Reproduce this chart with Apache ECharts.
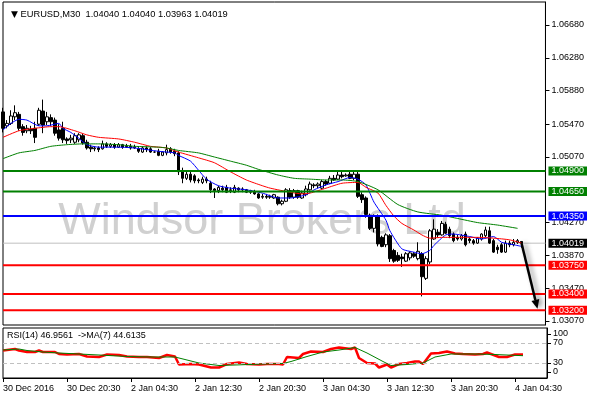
<!DOCTYPE html>
<html><head><meta charset="utf-8">
<script src="https://cdn.jsdelivr.net/npm/echarts@6/dist/echarts.min.js"></script>
<style>html,body{margin:0;padding:0;background:#fff}#c{width:590px;height:400px}</style>
</head><body><div id="c"></div>
<script>
// ---------- data ----------
const symbolName = 'EURUSD,M30';
const slotCount = 137; // 131 bars + chart shift
const tickLabels = {0:'30 Dec 2016',16:'30 Dec 20:30',32:'2 Jan 04:30',48:'2 Jan 12:30',64:'2 Jan 20:30',80:'3 Jan 04:30',96:'3 Jan 12:30',112:'3 Jan 20:30',128:'4 Jan 04:30'};
// [open, close, low, high]
const candles = [
[1.0562,1.0542,1.0537,1.0567],[1.0545,1.0548,1.0542,1.0552],[1.0548,1.0557,1.0546,1.0564],[1.0556,1.0561,1.0552,1.0570],
[1.0559,1.0542,1.0539,1.0562],[1.0544,1.0537,1.0533,1.0547],[1.0539,1.0542,1.0536,1.0546],[1.0541,1.0539,1.0535,1.0545],
[1.0542,1.0531,1.0524,1.0550],[1.0547,1.0564,1.0545,1.0567],[1.0563,1.0546,1.0536,1.0577],[1.0550,1.0556,1.0546,1.0562],
[1.0555,1.0550,1.0545,1.0559],[1.0552,1.0536,1.0533,1.0555],[1.0540,1.0530,1.0527,1.0547],[1.0542,1.0528,1.0524,1.0550],
[1.0529,1.0527,1.0523,1.0531],[1.0528,1.0530,1.0524,1.0534],[1.0525,1.0533,1.0523,1.0536],[1.0528,1.0534,1.0525,1.0536],
[1.0533,1.0524,1.0522,1.0535],[1.0525,1.0518,1.0516,1.0528],[1.0519,1.0517,1.0513,1.0522],[1.0517,1.0518,1.0514,1.0520],
[1.0518,1.0516,1.0513,1.0520],[1.0517,1.0523,1.0516,1.0527],[1.0523,1.0520,1.0518,1.0525],[1.0520,1.0522,1.0518,1.0524],
[1.0522,1.0519,1.0517,1.0524],[1.0519,1.0522,1.0518,1.0524],[1.0522,1.0519,1.0517,1.0523],[1.0519,1.0520,1.0518,1.0523],
[1.0520,1.0518,1.0516,1.0523],[1.0518,1.0519,1.0517,1.0522],[1.0517,1.0514,1.0512,1.0519],[1.0513,1.0518,1.0512,1.0520],
[1.0518,1.0516,1.0513,1.0520],[1.0517,1.0513,1.0512,1.0519],[1.0513,1.0513,1.0512,1.0514],[1.0514,1.0509,1.0508,1.0517],
[1.0509,1.0513,1.0508,1.0514],[1.0512,1.0516,1.0509,1.0522],[1.0517,1.0513,1.0511,1.0519],[1.0514,1.0511,1.0508,1.0517],
[1.0512,1.0489,1.0485,1.0514],[1.0490,1.0481,1.0475,1.0494],[1.0481,1.0486,1.0479,1.0489],[1.0486,1.0479,1.0476,1.0489],
[1.0484,1.0478,1.0475,1.0486],[1.0479,1.0478,1.0475,1.0481],[1.0476,1.0480,1.0474,1.0483],[1.0480,1.0478,1.0475,1.0483],
[1.0475,1.0467,1.0463,1.0478],[1.0468,1.0466,1.0457,1.0469],[1.0466,1.0470,1.0463,1.0472],[1.0469,1.0467,1.0464,1.0472],
[1.0470,1.0464,1.0463,1.0473],[1.0466,1.0467,1.0463,1.0470],[1.0464,1.0470,1.0463,1.0473],[1.0469,1.0467,1.0464,1.0470],
[1.0467,1.0468,1.0464,1.0470],[1.0467,1.0464,1.0463,1.0468],[1.0464,1.0466,1.0462,1.0467],[1.0464,1.0462,1.0461,1.0467],
[1.0462,1.0457,1.0456,1.0463],[1.0458,1.0459,1.0456,1.0462],[1.0459,1.0458,1.0456,1.0462],[1.0458,1.0459,1.0456,1.0461],
[1.0457,1.0461,1.0456,1.0462],[1.0458,1.0450,1.0448,1.0459],[1.0450,1.0453,1.0448,1.0455],[1.0453,1.0467,1.0452,1.0469],
[1.0466,1.0458,1.0456,1.0469],[1.0458,1.0466,1.0456,1.0468],[1.0466,1.0458,1.0456,1.0467],[1.0457,1.0463,1.0456,1.0466],
[1.0461,1.0468,1.0459,1.0472],[1.0467,1.0474,1.0466,1.0477],[1.0473,1.0472,1.0469,1.0475],[1.0472,1.0474,1.0469,1.0476],
[1.0469,1.0477,1.0468,1.0479],[1.0477,1.0474,1.0472,1.0479],[1.0475,1.0481,1.0474,1.0484],[1.0481,1.0479,1.0478,1.0485],
[1.0480,1.0485,1.0479,1.0489],[1.0485,1.0483,1.0481,1.0489],[1.0484,1.0485,1.0483,1.0487],[1.0486,1.0481,1.0480,1.0489],
[1.0481,1.0486,1.0479,1.0489],[1.0486,1.0459,1.0457,1.0489],[1.0461,1.0455,1.0451,1.0464],[1.0457,1.0437,1.0433,1.0459],
[1.0436,1.0420,1.0418,1.0438],[1.0420,1.0435,1.0415,1.0437],[1.0435,1.0401,1.0398,1.0437],[1.0409,1.0398,1.0397,1.0411],
[1.0400,1.0412,1.0397,1.0414],[1.0411,1.0383,1.0379,1.0413],[1.0393,1.0380,1.0378,1.0395],[1.0387,1.0381,1.0379,1.0391],
[1.0385,1.0383,1.0373,1.0389],[1.0380,1.0389,1.0379,1.0391],[1.0384,1.0390,1.0381,1.0392],[1.0389,1.0386,1.0384,1.0391],
[1.0383,1.0392,1.0381,1.0403],[1.0389,1.0361,1.0337,1.0391],[1.0359,1.0383,1.0357,1.0386],[1.0379,1.0417,1.0376,1.0419],
[1.0407,1.0419,1.0406,1.0431],[1.0415,1.0412,1.0409,1.0419],[1.0412,1.0426,1.0411,1.0429],[1.0425,1.0414,1.0413,1.0428],
[1.0419,1.0411,1.0408,1.0422],[1.0413,1.0405,1.0403,1.0415],[1.0409,1.0407,1.0405,1.0412],[1.0407,1.0411,1.0405,1.0413],
[1.0413,1.0400,1.0398,1.0416],[1.0407,1.0405,1.0402,1.0409],[1.0405,1.0402,1.0400,1.0407],[1.0402,1.0408,1.0401,1.0409],
[1.0407,1.0413,1.0405,1.0414],[1.0411,1.0418,1.0409,1.0422],[1.0417,1.0402,1.0401,1.0422],[1.0405,1.0391,1.0390,1.0407],
[1.0397,1.0394,1.0389,1.0400],[1.0400,1.0391,1.0390,1.0402],[1.0391,1.0402,1.0390,1.0405],[1.0402,1.0400,1.0397,1.0405],
[1.0400,1.0403,1.0398,1.0407],[1.0403,1.0405,1.0401,1.0407],[1.04040,1.04019,1.03963,1.04040]
];
// moving averages [barIndex, value]
const maFast = [[0,1.0540],[2,1.0548],[4,1.0553],[6,1.0552],[9,1.0545],[11,1.0545],[14,1.0548],[15,1.0542],[17,1.0537],[19,1.0530],[21,1.0522],[24,1.0519],[29,1.0519],[33,1.0518],[39,1.0514],[43,1.0512],[44,1.0509],[47,1.0502],[49,1.0491],[51,1.0480],[54,1.0472],[57,1.0469],[61,1.0467],[65,1.0463],[69,1.0457],[72,1.0457],[76,1.0461],[78,1.0467],[81,1.0473],[84,1.0477],[87,1.0482],[89,1.0480],[91,1.0473],[93,1.0452],[96,1.0430],[97,1.0417],[100,1.0395],[103,1.0391],[105,1.0389],[107,1.0393],[108,1.0399],[111,1.0412],[113,1.0413],[117,1.0410],[120,1.0407],[123,1.0410],[125,1.0403],[128,1.0400],[130,1.0398]];
const maMid = [[0,1.0531],[4,1.0539],[8,1.0542],[12,1.0544],[14,1.0544],[18,1.0539],[21,1.0534],[24,1.0531],[29,1.0529],[33,1.0525],[37,1.0520],[41,1.0518],[44,1.0513],[49,1.0506],[53,1.0500],[57,1.0489],[61,1.0479],[65,1.0472],[67,1.0469],[72,1.0464],[75,1.0462],[77,1.0463],[81,1.0469],[85,1.0475],[89,1.0476],[91,1.0470],[94,1.0463],[96,1.0448],[98,1.0435],[100,1.0426],[103,1.0418],[105,1.0412],[107,1.0408],[110,1.0409],[114,1.0409],[119,1.0409],[123,1.0408],[127,1.0406],[130,1.0402]];
const maSlow = [[0,1.0505],[4,1.0512],[8,1.0515],[12,1.0520],[16,1.0522],[20,1.0523],[24,1.0523],[29,1.0522],[33,1.0520],[39,1.0519],[41,1.0518],[44,1.0515],[49,1.0512],[53,1.0507],[57,1.0502],[61,1.0497],[64,1.0492],[69,1.0485],[73,1.0481],[77,1.0480],[81,1.0479],[85,1.0479],[89,1.0477],[94,1.0467],[99,1.0449],[104,1.0440],[110,1.0436],[114,1.0432],[119,1.0427],[124,1.0424],[129,1.0420]];
// RSI(14) and its MA(7)
const rsiLast = 46.9561, rsiMaLast = 44.6135;
const rsi = [[0,55],[3,58],[4,55],[6,52],[8,52],[9,55],[10,52],[13,52],[14,48],[16,47],[19,48],[21,43],[24,42],[26,47],[29,46],[31,43],[34,42],[36,42],[39,40],[41,46],[43,43],[44,27],[47,28],[49,27],[52,21],[54,21],[56,28],[59,31],[61,28],[64,27],[66,28],[69,28],[70,27],[71,42],[74,40],[75,48],[77,53],[80,52],[82,58],[84,61],[87,58],[88,61],[89,40],[91,30],[93,29],[94,21],[96,27],[97,21],[99,28],[101,30],[103,33],[104,33],[105,28],[107,49],[109,50],[111,53],[113,49],[115,48],[118,47],[120,48],[121,51],[122,48],[124,42],[126,42],[128,47],[130,rsiLast]];
const rsiMa = [[0,56],[4,58],[6,55],[10,52],[14,50],[19,48],[24,46],[31,43],[37,42],[43,42],[46,36],[49,30],[54,25],[58,26],[65,28],[70,29],[72,33],[76,43],[80,52],[84,56],[88,61],[91,50],[95,33],[97,25],[101,27],[105,30],[108,42],[112,48],[118,48],[123,47],[130,rsiMaLast]];
const rsiLevels = [70, 30];
const rsiTickValues = [12, 30, 70, 88];
const rsiTickText = {12:'0', 30:'30', 70:'70', 88:'100'};
// price scale labels and horizontal levels
const priceTicks = [1.0307,1.0347,1.0387,1.0427,1.0507,1.0547,1.0588,1.0628,1.0668];
const levelPrices = [1.0490,1.0465,1.0435,1.0375,1.0340,1.0320];
const levelKinds  = ['res','res','pivot','sup','sup','sup'];
const bidPrice = 1.04019;
const arrowTarget = 1.0322;
const watermark = 'Windsor Brokers Ltd';

// ---------- chart ----------
const FONT = 'Liberation Sans';
const PMIN = 1.030212, PMAX = 1.069602;
const cats = Array.from({length: slotCount}, (_, i) => String(i));
const kindColor = {res:'#008000', pivot:'#0000ff', sup:'#ff0000'};
const kindRich = {res:'g', pivot:'b', sup:'r'};
const fmt5 = v => v.toFixed(5);
const last = candles[candles.length - 1];
const header = `{t|▼} ${symbolName}  ${fmt5(last[0])} ${fmt5(last[3])} ${fmt5(last[2])} ${fmt5(last[1])}`;
const showTick = (i) => Object.prototype.hasOwnProperty.call(tickLabels, i);
const boxStyle = (bg) => ({backgroundColor: bg, color: '#fff', fontSize: 9, fontFamily: FONT, padding: [0, 3, 0, 3], lineHeight: 10});
const hLine = (p, color, width, z) => ({
  type: 'line', xAxisIndex: 0, yAxisIndex: 0, data: [[0, p], [slotCount - 1, p]],
  showSymbol: false, silent: true, z: z, lineStyle: {color: color, width: width, type: 'solid'}
});

const chart = echarts.init(document.getElementById('c'));
const option = {
  animation: false,
  backgroundColor: '#fff',
  textStyle: {fontFamily: FONT},
  title: {
    text: header, left: 6, top: 5,
    textStyle: {fontSize: 9.3, fontWeight: 'normal', color: '#000', fontFamily: FONT,
      rich: {t: {fontSize: 9, color: '#000', fontFamily: 'DejaVu Sans'}}}
  },
  grid: [
    {left: 3, top: 2, width: 544, height: 323, show: true, borderColor: '#000', borderWidth: 1},
    {left: 3, top: 328, width: 544, height: 50, show: true, borderColor: '#000', borderWidth: 1}
  ],
  xAxis: [
    {gridIndex: 0, type: 'category', data: cats, boundaryGap: false, show: false},
    {gridIndex: 1, type: 'category', data: cats, boundaryGap: false,
      axisLine: {lineStyle: {color: '#000'}},
      axisTick: {interval: showTick, length: 4, lineStyle: {color: '#000'}},
      axisLabel: {interval: showTick, formatter: (v, i) => tickLabels[i] || '', align: 'left',
        margin: 6, color: '#000', fontSize: 9, fontFamily: FONT},
      splitLine: {show: false}}
  ],
  yAxis: [
    {gridIndex: 0, type: 'value', position: 'right', min: PMIN, max: PMAX, scale: true,
      axisLine: {show: true, lineStyle: {color: '#000'}},
      axisTick: {show: true, customValues: priceTicks, length: 4, lineStyle: {color: '#000'}},
      axisLabel: {customValues: priceTicks, formatter: v => fmt5(v), color: '#000', fontSize: 9, fontFamily: FONT, margin: 6},
      splitLine: {show: false}},
    {gridIndex: 0, type: 'value', position: 'right', min: PMIN, max: PMAX, scale: true, z: 10,
      axisLine: {show: false}, axisTick: {show: false}, splitLine: {show: false},
      axisLabel: {customValues: levelPrices.concat([bidPrice]), margin: 3,
        formatter: v => {
          if (Math.abs(v - bidPrice) < 1e-7) return '{k|' + fmt5(v) + '}';
          const i = levelPrices.findIndex(p => Math.abs(p - v) < 1e-7);
          return '{' + kindRich[levelKinds[i]] + '|' + fmt5(v) + '}';
        },
        rich: {g: boxStyle('#008000'), b: boxStyle('#0000ff'), r: boxStyle('#ff0000'), k: boxStyle('#000000')}}},
    {gridIndex: 1, type: 'value', position: 'right', min: 0, max: 100,
      axisLine: {show: true, lineStyle: {color: '#000'}},
      axisTick: {show: true, customValues: rsiTickValues, length: 4, lineStyle: {color: '#000'}},
      axisLabel: {customValues: rsiTickValues, formatter: v => rsiTickText[v], color: '#000', fontSize: 9, fontFamily: FONT, margin: 6},
      splitLine: {show: false}}
  ],
  series: [
    hLine(bidPrice, '#c0c0c0', 1, 1),
    {type: 'candlestick', xAxisIndex: 0, yAxisIndex: 0, data: candles, barWidth: 3, z: 2,
      itemStyle: {color: '#ffffff', color0: '#000000', borderColor: '#000000', borderColor0: '#000000', borderWidth: 1}},
    {type: 'line', xAxisIndex: 0, yAxisIndex: 0, data: maFast, showSymbol: false, smooth: 0.2, z: 3,
      lineStyle: {color: '#0000ff', width: 1}},
    {type: 'line', xAxisIndex: 0, yAxisIndex: 0, data: maMid, showSymbol: false, smooth: 0.2, z: 3,
      lineStyle: {color: '#ff0000', width: 1}},
    {type: 'line', xAxisIndex: 0, yAxisIndex: 0, data: maSlow, showSymbol: false, smooth: 0.2, z: 3,
      lineStyle: {color: '#008000', width: 1}}
  ].concat(levelPrices.map((p, i) => hLine(p, kindColor[levelKinds[i]], 2, 4))).concat([
    {type: 'line', xAxisIndex: 1, yAxisIndex: 2, data: rsi, showSymbol: false, z: 3,
      lineStyle: {color: '#ff0000', width: 2.5},
      markLine: {silent: true, symbol: ['none', 'none'], label: {show: false},
        data: rsiLevels.map(v => ({yAxis: v})), lineStyle: {color: '#c0c0c0', width: 1, type: [4, 3]}}},
    {type: 'line', xAxisIndex: 1, yAxisIndex: 2, data: rsiMa, showSymbol: false, z: 4,
      lineStyle: {color: '#008000', width: 1}}
  ]),
  graphic: [
    {id: 'wm', type: 'text', z: 0, silent: true,
      style: {text: watermark, x: 262, y: 222, align: 'center', verticalAlign: 'middle', textAlign: 'center', textVerticalAlign: 'middle',
        fontSize: 45, fontFamily: FONT, fill: '#d0d0d0'}},
    {id: 'rsiLabel', type: 'text', z: 5, silent: true,
      style: {text: `RSI(14) ${rsiLast.toFixed(4)}  ->MA(7) ${rsiMaLast.toFixed(4)}`, x: 7, y: 336,
        verticalAlign: 'middle', textVerticalAlign: 'middle', fontSize: 9, fontFamily: FONT, fill: '#000'}}
  ]
};
chart.setOption(option);

// forecast arrow from last close toward target
const a = chart.convertToPixel({xAxisIndex: 0, yAxisIndex: 0}, [candles.length - 1, bidPrice]);
const b = chart.convertToPixel({xAxisIndex: 0, yAxisIndex: 0}, [candles.length + 3, arrowTarget]);
const dx = b[0] - a[0], dy = b[1] - a[1], L = Math.hypot(dx, dy), ux = dx / L, uy = dy / L;
const hl = 9, hw = 4;
const base = [b[0] - ux * hl, b[1] - uy * hl];
const px = -uy, py = ux;
const shadow = {shadowBlur: 5, shadowColor: 'rgba(0,0,0,0.45)', shadowOffsetX: 3, shadowOffsetY: 0};
chart.setOption({graphic: [
  {id: 'arrowShaft', type: 'line', z: 20, silent: true,
    shape: {x1: a[0], y1: a[1], x2: base[0], y2: base[1]},
    style: Object.assign({stroke: '#000', lineWidth: 2.5}, shadow)},
  {id: 'arrowHead', type: 'polygon', z: 20, silent: true,
    shape: {points: [b, [base[0] + px * hw, base[1] + py * hw], [base[0] - px * hw, base[1] - py * hw]]},
    style: Object.assign({fill: '#000'}, shadow)}
]});
</script>
</body></html>
